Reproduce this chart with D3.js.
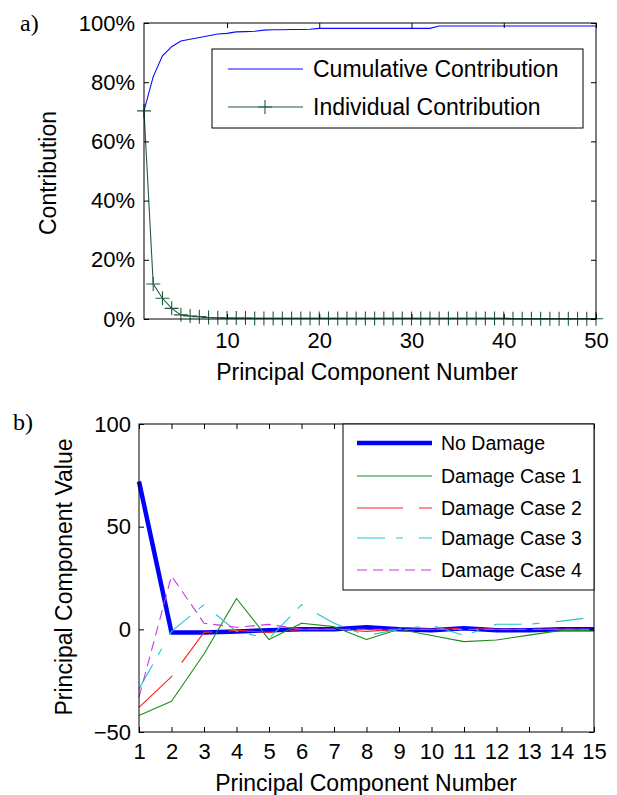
<!DOCTYPE html>
<html>
<head>
<meta charset="utf-8">
<script src="https://cdn.jsdelivr.net/npm/d3@7"></script>
<style>
  html, body { margin: 0; padding: 0; background: #fff; }
  svg { display: block; }
  text { font-family: "Liberation Sans", Arial, sans-serif; fill: #000; }
  .panel-tag { font-family: "Liberation Serif", "Times New Roman", serif; }
</style>
</head>
<body>
<svg id="fig" width="617" height="795"></svg>
<script>
// ---------- Panel a) : contribution of each principal component ----------
const pcNumbersA = d3.range(1, 51);
const cumulativeContribution = [
  70.3, 81.9, 88.9, 92.0, 93.9, 94.5, 95.1, 95.7, 96.3, 96.5,
  97.0, 97.1, 97.2, 97.6, 97.7, 97.7, 97.8, 97.8, 97.9, 98.2,
  98.2, 98.2, 98.2, 98.2, 98.2, 98.2, 98.2, 98.2, 98.2, 98.2,
  98.2, 98.2, 99.0, 99.0, 99.0, 99.0, 99.0, 99.0, 99.0, 99.0,
  99.0, 99.0, 99.0, 99.0, 99.0, 99.0, 99.0, 99.0, 99.0, 99.0
];
const individualContribution = [
  70.3, 11.8, 7.0, 3.6, 1.4, 1.0, 0.8, 0.5, 0.4, 0.3,
  0.3, 0.3, 0.2, 0.2, 0.2, 0.2, 0.2, 0.2, 0.2, 0.2,
  0.2, 0.2, 0.2, 0.2, 0.2, 0.2, 0.2, 0.2, 0.2, 0.2,
  0.2, 0.2, 0.2, 0.2, 0.2, 0.2, 0.2, 0.2, 0.2, 0.2,
  0.1, 0.1, 0.1, 0.1, 0.1, 0.1, 0.1, 0.1, 0.1, 0.1
];
const xTicksA = [10, 20, 30, 40, 50];
const yTicksA = [0, 20, 40, 60, 80, 100];
const legendA = ["Cumulative Contribution", "Individual Contribution"];

// ---------- Panel b) : principal component values per damage case ----------
const pcNumbersB = d3.range(1, 16);
const noDamage    = [72, -1.5, -1.5, -1, -0.5, 0, 0, 1, 0, -0.5, 0.5, -0.5, -0.5, 0, 0];
const damageCase1 = [-42, -35, -12, 15, -5, 3, 1.3, -5, 0, -3, -6, -5.2, -2.8, -0.5, -0.5];
const damageCase2 = [-38, -23, -1.5, -0.5, -1.5, 0, 0, -1, 0, 0, 0.5, 0, 0, 0, 0];
const damageCase3 = [-29, -1, 12, -1, -4.5, 12, 3, -3, 0, 2, -3, 2.5, 2.5, 4, 6];
const damageCase4 = [-33, 26, 3, 1, 2.4, 0, 0, 0, 0, 0, 0, 0, 0, 0, 0];
const xTicksB = d3.range(1, 16);
const yTicksB = [-50, 0, 50, 100];
const seriesNamesB = ["No Damage", "Damage Case 1", "Damage Case 2", "Damage Case 3", "Damage Case 4"];

const svg = d3.select("#fig");

// Inward ticks on all four sides, MATLAB-style boxed axes
function boxAxes(g, x, y, opt) {
  const [x0, x1] = x.range();
  const [y0, y1] = y.range();
  const tick = 5;
  const fs = 22;

  const bottom = g.append("g").attr("transform", `translate(0,${y0})`)
    .call(d3.axisBottom(x).tickValues(opt.xTicks).tickSize(-tick).tickPadding(opt.xPad).tickFormat(opt.xFormat));
  const top = g.append("g").attr("transform", `translate(0,${y1})`)
    .call(d3.axisTop(x).tickValues(opt.xTicks).tickSize(-tick).tickFormat(""));
  const left = g.append("g").attr("transform", `translate(${x0},0)`)
    .call(d3.axisLeft(y).tickValues(opt.yTicks).tickSize(-tick).tickPadding(opt.yPad).tickFormat(opt.yFormat));
  const right = g.append("g").attr("transform", `translate(${x1},0)`)
    .call(d3.axisRight(y).tickValues(opt.yTicks).tickSize(-tick).tickFormat(""));

  [bottom, top, left, right].forEach(a => {
    a.select(".domain").remove();
    a.selectAll(".tick line").attr("stroke", "#000").attr("stroke-width", 1);
    a.selectAll("text").attr("font-size", fs).attr("font-family", "'Liberation Sans', Arial, sans-serif").attr("fill", "#000");
  });
  return g;
}

function frame(g, x, y) {
  const [x0, x1] = x.range();
  const [y0, y1] = y.range();
  g.append("rect")
    .attr("x", x0).attr("y", y1)
    .attr("width", x1 - x0).attr("height", y0 - y1)
    .attr("fill", "none").attr("stroke", "#000").attr("stroke-width", 1);
}

// ===================== Panel a) =====================
{
  const x = d3.scaleLinear().domain([1, 50]).range([144, 596]);
  const y = d3.scaleLinear().domain([0, 100]).range([319, 23]);
  const g = svg.append("g");

  const blue = "#0a0aff";
  const green = "#1f5c3c";

  const line = d3.line().x((d, i) => x(pcNumbersA[i])).y(d => y(d));

  g.append("path").datum(cumulativeContribution)
    .attr("d", line).attr("fill", "none").attr("stroke", blue).attr("stroke-width", 1.1);

  g.append("path").datum(individualContribution)
    .attr("d", line).attr("fill", "none").attr("stroke", green).attr("stroke-width", 1.1);

  const plus = (cx, cy, r) => `M${cx - r},${cy}H${cx + r}M${cx},${cy - r}V${cy + r}`;
  g.append("path")
    .attr("d", individualContribution.map((d, i) => plus(x(pcNumbersA[i]), y(d), 7)).join(""))
    .attr("fill", "none").attr("stroke", green).attr("stroke-width", 1.1);

  frame(g, x, y);
  boxAxes(g, x, y, {
    xTicks: xTicksA, yTicks: yTicksA, xPad: 13, yPad: 9,
    xFormat: d3.format("d"), yFormat: d => d + "%"
  });

  // legend
  const lg = g.append("g");
  lg.append("rect").attr("x", 212).attr("y", 49).attr("width", 371).attr("height", 79)
    .attr("fill", "#fff").attr("stroke", "#000").attr("stroke-width", 1);
  const rowsA = [69, 107];
  lg.append("line").attr("x1", 228).attr("x2", 303).attr("y1", rowsA[0]).attr("y2", rowsA[0])
    .attr("stroke", blue).attr("stroke-width", 1.1);
  lg.append("line").attr("x1", 228).attr("x2", 303).attr("y1", rowsA[1]).attr("y2", rowsA[1])
    .attr("stroke", green).attr("stroke-width", 1.1);
  lg.append("path").attr("d", plus(265, rowsA[1], 7)).attr("stroke", green).attr("stroke-width", 1.1);
  legendA.forEach((t, i) => {
    lg.append("text").attr("x", 313).attr("y", rowsA[i] + 8).attr("font-size", 23).text(t);
  });

  // axis titles
  svg.append("text").attr("x", 367).attr("y", 380).attr("text-anchor", "middle")
    .attr("font-size", 23).text("Principal Component Number");
  svg.append("text").attr("transform", "translate(56,173) rotate(-90)").attr("text-anchor", "middle")
    .attr("font-size", 23).text("Contribution");
  svg.append("text").attr("class", "panel-tag").attr("x", 20).attr("y", 31)
    .attr("font-size", 24).text("a)");
}

// ===================== Panel b) =====================
{
  const x = d3.scaleLinear().domain([1, 15]).range([139, 594]);
  const y = d3.scaleLinear().domain([-50, 100]).range([732, 424]);
  const g = svg.append("g");

  const styles = [
    { data: noDamage,    color: "#0000ff", width: 4.5, dash: null },
    { data: damageCase1, color: "#1a8c1a", width: 1.1, dash: null },
    { data: damageCase2, color: "#ff2020", width: 1.1, dash: "46,16" },
    { data: damageCase3, color: "#22c4d4", width: 1.1, dash: "28,11,7,16" },
    { data: damageCase4, color: "#c83cdc", width: 1.1, dash: "10,6" }
  ];

  const line = d3.line().x((d, i) => x(pcNumbersB[i])).y(d => y(d));
  styles.forEach(s => {
    g.append("path").datum(s.data).attr("d", line)
      .attr("fill", "none").attr("stroke", s.color).attr("stroke-width", s.width)
      .attr("stroke-linejoin", "round")
      .attr("stroke-dasharray", s.dash);
  });

  frame(g, x, y);
  boxAxes(g, x, y, {
    xTicks: xTicksB, yTicks: yTicksB, xPad: 11, yPad: 8,
    xFormat: d3.format("d"), yFormat: d3.format("d")
  });

  // legend
  const lg = g.append("g");
  lg.append("rect").attr("x", 343).attr("y", 424).attr("width", 251).attr("height", 166)
    .attr("fill", "#fff").attr("stroke", "#000").attr("stroke-width", 1);
  const rowsB = [443, 476, 508, 538, 570];
  styles.forEach((s, i) => {
    lg.append("line").attr("x1", 357).attr("x2", 432).attr("y1", rowsB[i]).attr("y2", rowsB[i])
      .attr("stroke", s.color).attr("stroke-width", s.width).attr("stroke-dasharray", s.dash);
    lg.append("text").attr("x", 441).attr("y", rowsB[i] + 7).attr("font-size", 19.5).text(seriesNamesB[i]);
  });

  svg.append("text").attr("x", 366).attr("y", 791).attr("text-anchor", "middle")
    .attr("font-size", 23).text("Principal Component Number");
  svg.append("text").attr("transform", "translate(72,577) rotate(-90)").attr("text-anchor", "middle")
    .attr("font-size", 23).text("Principal Component Value");
  svg.append("text").attr("class", "panel-tag").attr("x", 13).attr("y", 430)
    .attr("font-size", 24).text("b)");
}
</script>
</body>
</html>
